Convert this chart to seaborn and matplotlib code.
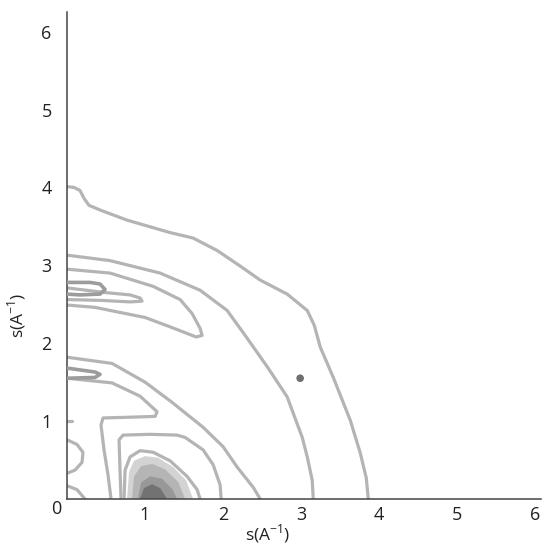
import matplotlib
matplotlib.use("Agg")
import matplotlib.pyplot as plt
import seaborn as sns
import pandas as pd

# contour lines (s in A^-1)
outer_x = [0, 0.09, 0.167, 0.218, 0.282, 0.424, 0.770, 1.322, 1.617, 1.926, 2.221, 2.478, 2.824, 3.081, 3.171, 3.248, 3.415, 3.633, 3.761, 3.838, 3.864]
outer_y = [4.01, 4.00, 3.96, 3.86, 3.77, 3.71, 3.58, 3.42, 3.35, 3.19, 2.99, 2.81, 2.63, 2.42, 2.23, 1.95, 1.56, 1.01, 0.59, 0.27, 0.0]

second_x = [0, 0.552, 1.194, 1.707, 2.054, 2.285, 2.580, 2.824, 3.017, 3.081, 3.145, 3.158]
second_y = [3.13, 3.06, 2.90, 2.68, 2.42, 2.10, 1.68, 1.31, 0.79, 0.54, 0.24, 0.0]

tongue_x = [0, 0.552, 1.104, 1.451, 1.605, 1.707, 1.733, 1.656, 1.322, 1.001, 0.359, 0]
tongue_y = [2.95, 2.90, 2.73, 2.56, 2.38, 2.19, 2.10, 2.08, 2.21, 2.33, 2.46, 2.49]

inner_tongue_x = [0, 0.488, 0.809, 0.937, 0.963, 0.809, 0.424, 0]
inner_tongue_y = [2.71, 2.65, 2.62, 2.58, 2.54, 2.53, 2.55, 2.56]

arc_x = [0, 0.578, 1.001, 1.348, 1.746, 2.003, 2.182, 2.388, 2.478]
arc_y = [1.82, 1.74, 1.50, 1.24, 0.92, 0.67, 0.41, 0.15, 0.0]

hook_x = [0, 0.578, 0.937, 1.155, 1.130, 0.809, 0.462, 0.436, 0.475, 0.526, 0.565]
hook_y = [1.55, 1.49, 1.32, 1.12, 1.06, 1.05, 1.04, 0.95, 0.63, 0.31, 0.0]

box_x = [0.693, 0.680, 0.668, 0.719, 1.065, 1.412, 1.515, 1.746, 1.874, 1.964, 1.977]
box_y = [0, 0.37, 0.76, 0.82, 0.83, 0.82, 0.79, 0.63, 0.44, 0.18, 0]

peak_x = [0.732, 0.745, 0.809, 0.937, 1.104, 1.322, 1.540, 1.669, 1.707]
peak_y = [0, 0.37, 0.54, 0.62, 0.60, 0.49, 0.29, 0.12, 0]

edge1_x = [0, 0.128, 0.205, 0.193, 0.103, 0]
edge1_y = [0.76, 0.70, 0.60, 0.47, 0.37, 0.33]
edge2_x = [0, 0.128, 0.231]
edge2_y = [0.17, 0.12, 0]
edge3_x = [0, 0.06]
edge3_y = [1.0, 1.0]

# darker small loops at the left edge
blob1_x = [0, 0.295, 0.424, 0.488, 0.424, 0.167, 0]
blob1_y = [2.78, 2.78, 2.76, 2.69, 2.63, 2.62, 2.63]
blob2_x = [0, 0.359, 0.424, 0.359, 0]
blob2_y = [1.68, 1.63, 1.60, 1.56, 1.55]

# filled levels of the peak, light to dark
fill1_x = [0.770, 0.796, 0.860, 1.001, 1.168, 1.361, 1.528, 1.617]
fill1_y = [0, 0.35, 0.49, 0.55, 0.53, 0.41, 0.24, 0]
fill2_x = [0.834, 0.860, 0.950, 1.091, 1.258, 1.425, 1.515]
fill2_y = [0, 0.29, 0.42, 0.45, 0.38, 0.22, 0]
fill3_x = [0.911, 0.950, 1.065, 1.220, 1.348, 1.412]
fill3_y = [0, 0.21, 0.29, 0.26, 0.13, 0]
fill4_x = [0.937, 0.988, 1.091, 1.194, 1.284]
fill4_y = [0, 0.14, 0.19, 0.14, 0]

point_x = [2.99]
point_y = [1.55]

sns.set_style("white")
plt.rcParams['font.family'] = ['Open Sans', 'DejaVu Sans']

lines = [(outer_x, outer_y), (second_x, second_y), (tongue_x, tongue_y),
         (inner_tongue_x, inner_tongue_y), (arc_x, arc_y), (hook_x, hook_y),
         (box_x, box_y), (peak_x, peak_y), (edge1_x, edge1_y),
         (edge2_x, edge2_y), (edge3_x, edge3_y)]
rows = []
for i, (xs, ys) in enumerate(lines):
    for j in range(len(xs)):
        rows.append({'x': xs[j], 'y': ys[j], 'id': i})
df = pd.DataFrame(rows)

dark_rows = []
for i, (xs, ys) in enumerate([(blob1_x, blob1_y), (blob2_x, blob2_y)]):
    for j in range(len(xs)):
        dark_rows.append({'x': xs[j], 'y': ys[j], 'id': i})
dark = pd.DataFrame(dark_rows)

fig = plt.figure(figsize=(5.5, 5.47), dpi=100)
ax = fig.add_axes([0.1218, 0.0878, 0.862, 0.890])

# filled peak
for (xs, ys), c in zip([(fill1_x, fill1_y), (fill2_x, fill2_y), (fill3_x, fill3_y), (fill4_x, fill4_y)],
                       ['#d3d3d3', '#b5b5b5', '#989898', '#727272']):
    ax.fill(xs, ys, color=c, lw=0, zorder=1)

sns.lineplot(data=df, x='x', y='y', units='id', estimator=None, sort=False,
             color='#b4b4b4', lw=2.3, ax=ax, zorder=2,
             solid_joinstyle='round', solid_capstyle='round')
sns.lineplot(data=dark, x='x', y='y', units='id', estimator=None, sort=False,
             color='#9c9c9c', lw=2.6, ax=ax, zorder=3,
             solid_joinstyle='round', solid_capstyle='round')
sns.scatterplot(x=point_x, y=point_y, color='#6f6f6f', s=30, edgecolor='none', ax=ax, zorder=4)

ax.set_xlim(0, 6.08)
ax.set_ylim(0, 6.25)
ax.set_xticks([1, 2, 3, 4, 5, 6])
ax.set_yticks([1, 2, 3, 4, 5, 6])
ax.tick_params(direction='in', length=5, width=1, color='#444444', labelsize=13, labelcolor='#222222')
ax.tick_params(axis='x', pad=5)
ax.tick_params(axis='y', pad=11)
for s in ['top', 'right']:
    ax.spines[s].set_visible(False)
for s in ['left', 'bottom']:
    ax.spines[s].set_color('#444444')
    ax.spines[s].set_linewidth(1.1)

ax.annotate('0', xy=(0, 0), xytext=(-7.5, -7.5), textcoords='offset points',
            ha='center', va='center', fontsize=13, color='#222222')

ax.set_xlabel('s(A$^{\\mathregular{-1}}$)', fontsize=12.5, color='#222222')
ax.set_ylabel('s(A$^{\\mathregular{-1}}$)', fontsize=12.5, color='#222222')
ax.xaxis.set_label_coords(0.424, -0.048)
ax.yaxis.set_label_coords(-0.082, 0.378)

fig.savefig('out.png', dpi=100)
